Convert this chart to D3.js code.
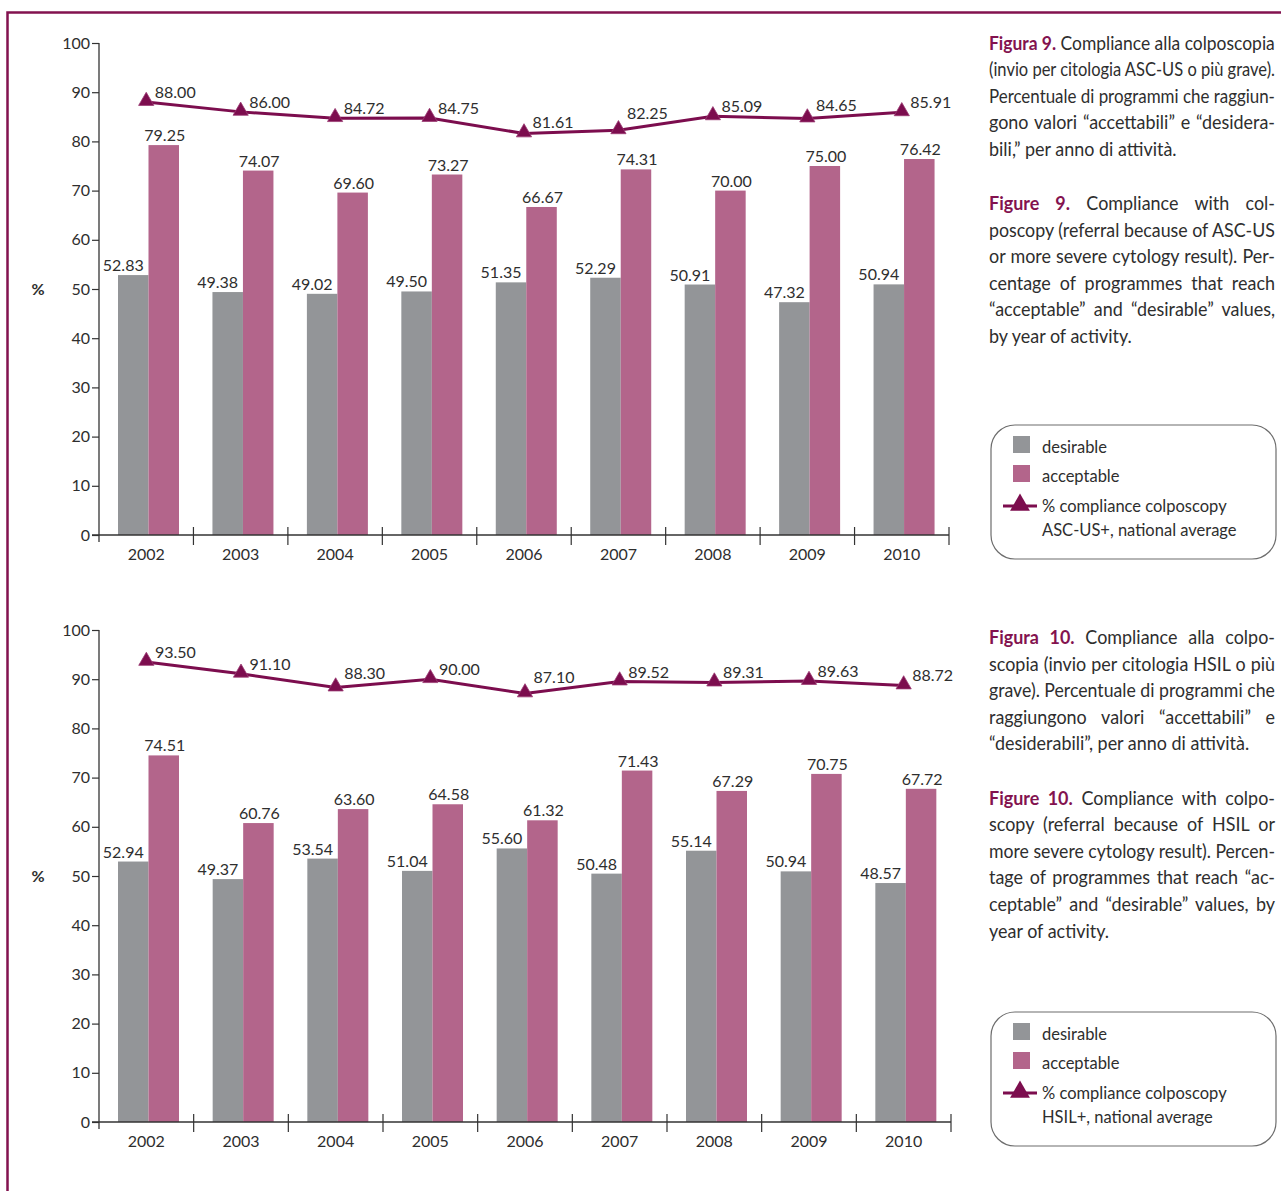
<!DOCTYPE html>
<html><head><meta charset="utf-8">
<script src="https://cdn.jsdelivr.net/npm/d3@7"></script>
<style>
html,body{margin:0;padding:0;background:#fff;}
svg{display:block;}
text{font-family:Lato,"Open Sans",sans-serif;}
</style></head>
<body>
<svg id="c" width="1281" height="1191"></svg>
<script>
// ---- data ----
const years = ["2002","2003","2004","2005","2006","2007","2008","2009","2010"];
const seriesNames = ["desirable","acceptable"];
const yTicks = [0,10,20,30,40,50,60,70,80,90,100];

const desirableASC = [52.83,49.38,49.02,49.50,51.35,52.29,50.91,47.32,50.94];
const acceptableASC = [79.25,74.07,69.60,73.27,66.67,74.31,70.00,75.00,76.42];
const complianceASC = [88.00,86.00,84.72,84.75,81.61,82.25,85.09,84.65,85.91];

const desirableHSIL = [52.94,49.37,53.54,51.04,55.60,50.48,55.14,50.94,48.57];
const acceptableHSIL = [74.51,60.76,63.60,64.58,61.32,71.43,67.29,70.75,67.72];
const complianceHSIL = [93.50,91.10,88.30,90.00,87.10,89.52,89.31,89.63,88.72];

const legendLine1 = ["% compliance colposcopy","ASC-US+, national average"];
const legendLine2 = ["% compliance colposcopy","HSIL+, national average"];

const caption9it = [["Figura 9."," Compliance alla colposcopia"],["","(invio per citologia ASC-US o più grave)."],["","Percentuale di programmi che raggiun-"],["","gono valori “accettabili” e “desidera-"],["","bili,” per anno di attività."]];
const caption9en = [["Figure 9."," Compliance with col-"],["","poscopy (referral because of ASC-US"],["","or more severe cytology result). Per-"],["","centage of programmes that reach"],["","“acceptable” and “desirable” values,"],["","by year of activity."]];
const caption10it = [["Figura 10."," Compliance alla colpo-"],["","scopia (invio per citologia HSIL o più"],["","grave). Percentuale di programmi che"],["","raggiungono valori “accettabili” e"],["","“desiderabili”, per anno di attività."]];
const caption10en = [["Figure 10."," Compliance with colpo-"],["","scopy (referral because of HSIL or"],["","more severe cytology result). Percen-"],["","tage of programmes that reach “ac-"],["","ceptable” and “desirable” values, by"],["","year of activity."]];

// ---- styles ----
const GRAY = "#939598", PINK = "#b3658b", LINE = "#7c0d4e", FRAME = "#83124f", TXT = "#2e2e2e";
const svg = d3.select("#c");

// frame
svg.append("path").attr("d","M7.5,1191 V12.5 H1281").attr("fill","none").attr("stroke",FRAME).attr("stroke-width",2.5);

function drawChart(dy, xEnd, desirable, acceptable, compliance){
  const g = svg.append("g").attr("transform",`translate(0,${dy})`);
  const y = d3.scaleLinear().domain([0,100]).range([535,43]);
  const x = d3.scaleBand().domain(years).range([99,xEnd]).padding(0);
  const xs = d3.scaleBand().domain(seriesNames).range([19,80]).padding(0);
  const color = d3.scaleOrdinal().domain(seriesNames).range([GRAY,PINK]);
  const rows = years.map((yr,i)=>({year:yr, desirable:desirable[i], acceptable:acceptable[i], compliance:compliance[i]}));

  // bars
  const grp = g.selectAll("g.yr").data(rows).join("g").attr("transform",d=>`translate(${x(d.year)},0)`);
  grp.selectAll("rect").data(d=>seriesNames.map(k=>({k,v:d[k]}))).join("rect")
    .attr("x",d=>xs(d.k)).attr("width",xs.bandwidth())
    .attr("y",d=>y(d.v)).attr("height",d=>y(0)-y(d.v)).attr("fill",d=>color(d.k));
  grp.selectAll("text.bl").data(d=>seriesNames.map(k=>({k,v:d[k]}))).join("text").attr("class","bl")
    .attr("x",d=>xs(d.k)+xs.bandwidth()/2 + (d.k==="desirable"?-10:1))
    .attr("y",d=>y(d.v)-4).attr("text-anchor","middle").attr("font-size",16).attr("fill",TXT)
    .text(d=>d.v.toFixed(2));

  // y axis
  const ya = g.append("g").attr("transform","translate(99,0)")
    .call(d3.axisLeft(y).tickValues(yTicks).tickSize(7).tickSizeOuter(0).tickPadding(2));
  ya.select(".domain").remove();
  ya.selectAll(".tick line").attr("stroke","#333").attr("stroke-width",1.2);
  ya.selectAll(".tick text").attr("font-size",16).attr("fill",TXT).attr("font-family","Lato,sans-serif");
  g.append("line").attr("x1",99).attr("x2",99).attr("y1",y(100)).attr("y2",y(0)+7).attr("stroke","#333").attr("stroke-width",1.3);

  // x axis
  g.append("line").attr("x1",92).attr("x2",xEnd).attr("y1",y(0)).attr("y2",y(0)).attr("stroke","#333").attr("stroke-width",1.3);
  const bounds = years.slice(1).map(yr=>x(yr)).concat([xEnd]);
  g.selectAll("line.xt").data(bounds).join("line").attr("class","xt")
    .attr("x1",d=>d).attr("x2",d=>d).attr("y1",y(0)-8).attr("y2",y(0)+10).attr("stroke","#333").attr("stroke-width",1.2);
  g.selectAll("text.xl").data(years).join("text").attr("class","xl")
    .attr("x",d=>x(d)+x.bandwidth()/2).attr("y",y(0)+25).attr("text-anchor","middle")
    .attr("font-size",16).attr("fill",TXT).text(d=>d);

  // % label
  g.append("text").attr("x",38).attr("y",y(50)+6).attr("text-anchor","middle").attr("font-size",16).attr("font-weight","bold").attr("fill",TXT).text("%");

  // line
  const cx = d=>x(d.year)+x.bandwidth()/2;
  g.append("path").datum(rows).attr("fill","none").attr("stroke",LINE).attr("stroke-width",3)
    .attr("d",d3.line().x(cx).y(d=>y(d.compliance)));
  g.selectAll("path.mk").data(rows).join("path").attr("class","mk")
    .attr("transform",d=>`translate(${cx(d)},${y(d.compliance)-1})`)
    .attr("d",d3.symbol(d3.symbolTriangle,100)).attr("fill",LINE).attr("stroke","#9a3a72").attr("stroke-width",0.8);
  // label sits above the line segment to its right
  const labelY = (d,i)=>{
    const y0 = y(d.compliance);
    if(i<rows.length-1){
      const y1 = y(rows[i+1].compliance);
      const t = 49/x.bandwidth();
      return Math.min(y0, y0+(y1-y0)*t) - 4;
    }
    return y0 - 4;
  };
  g.selectAll("text.ll").data(rows).join("text").attr("class","ll")
    .attr("x",d=>cx(d)+29).attr("y",(d,i)=>labelY(d,i)).attr("text-anchor","middle")
    .attr("font-size",16).attr("fill",TXT).text(d=>d.compliance.toFixed(2));
}

function drawLegend(dy, lineText){
  const g = svg.append("g").attr("transform",`translate(0,${dy})`);
  g.append("rect").attr("x",991).attr("y",425).attr("width",285).attr("height",134).attr("rx",24)
    .attr("fill","none").attr("stroke","#6d6d6d").attr("stroke-width",1.2);
  const items = [{k:"desirable",c:GRAY,y:436},{k:"acceptable",c:PINK,y:465}];
  g.selectAll("rect.sw").data(items).join("rect").attr("class","sw")
    .attr("x",1013).attr("y",d=>d.y).attr("width",17).attr("height",17).attr("fill",d=>d.c);
  g.selectAll("text.lt").data(items).join("text").attr("class","lt")
    .attr("x",1042).attr("y",d=>d.y+17).attr("font-size",16.5).attr("fill",TXT).text(d=>d.k);
  g.append("line").attr("x1",1003).attr("x2",1037).attr("y1",506).attr("y2",506).attr("stroke",LINE).attr("stroke-width",3);
  g.append("path").attr("transform","translate(1020,505)").attr("d",d3.symbol(d3.symbolTriangle,170)).attr("fill",LINE);
  g.append("text").attr("x",1042).attr("y",512).attr("font-size",16.5).attr("fill",TXT).text(lineText[0]);
  g.append("text").attr("x",1042).attr("y",536).attr("font-size",16.5).attr("fill",TXT).text(lineText[1]);
}

function drawCaption(lines, y0){
  const left = 989, right = 1275, lh = 26.6, k = 0.97;
  const target = (right-left)/k;
  lines.forEach((ln,i)=>{
    const t = svg.append("text").attr("transform",`translate(${left},${y0+i*lh}) scale(${k},1)`)
      .attr("x",0).attr("y",0).attr("font-size",18.5).attr("fill",TXT);
    if(ln[0]) t.append("tspan").attr("font-weight","bold").attr("fill",FRAME).text(ln[0]);
    t.append("tspan").text(ln[1]);
    const last = i===lines.length-1;
    if(!last){
      const w = t.node().getComputedTextLength();
      const spaces = (ln[0]+ln[1]).split(" ").length-1;
      if(w > target){
        t.attr("transform",`translate(${left},${y0+i*lh}) scale(${k*target/w},1)`);
      } else if(spaces>0){
        t.style("word-spacing",((target-w)/spaces)+"px");
      }
    }
  });
}

drawChart(0, 949, desirableASC, acceptableASC, complianceASC);
drawChart(587, 951, desirableHSIL, acceptableHSIL, complianceHSIL);
drawLegend(0, legendLine1);
drawLegend(587, legendLine2);
drawCaption(caption9it, 49.5);
drawCaption(caption9en, 210);
drawCaption(caption10it, 644);
drawCaption(caption10en, 804.5);
</script>
</body></html>
